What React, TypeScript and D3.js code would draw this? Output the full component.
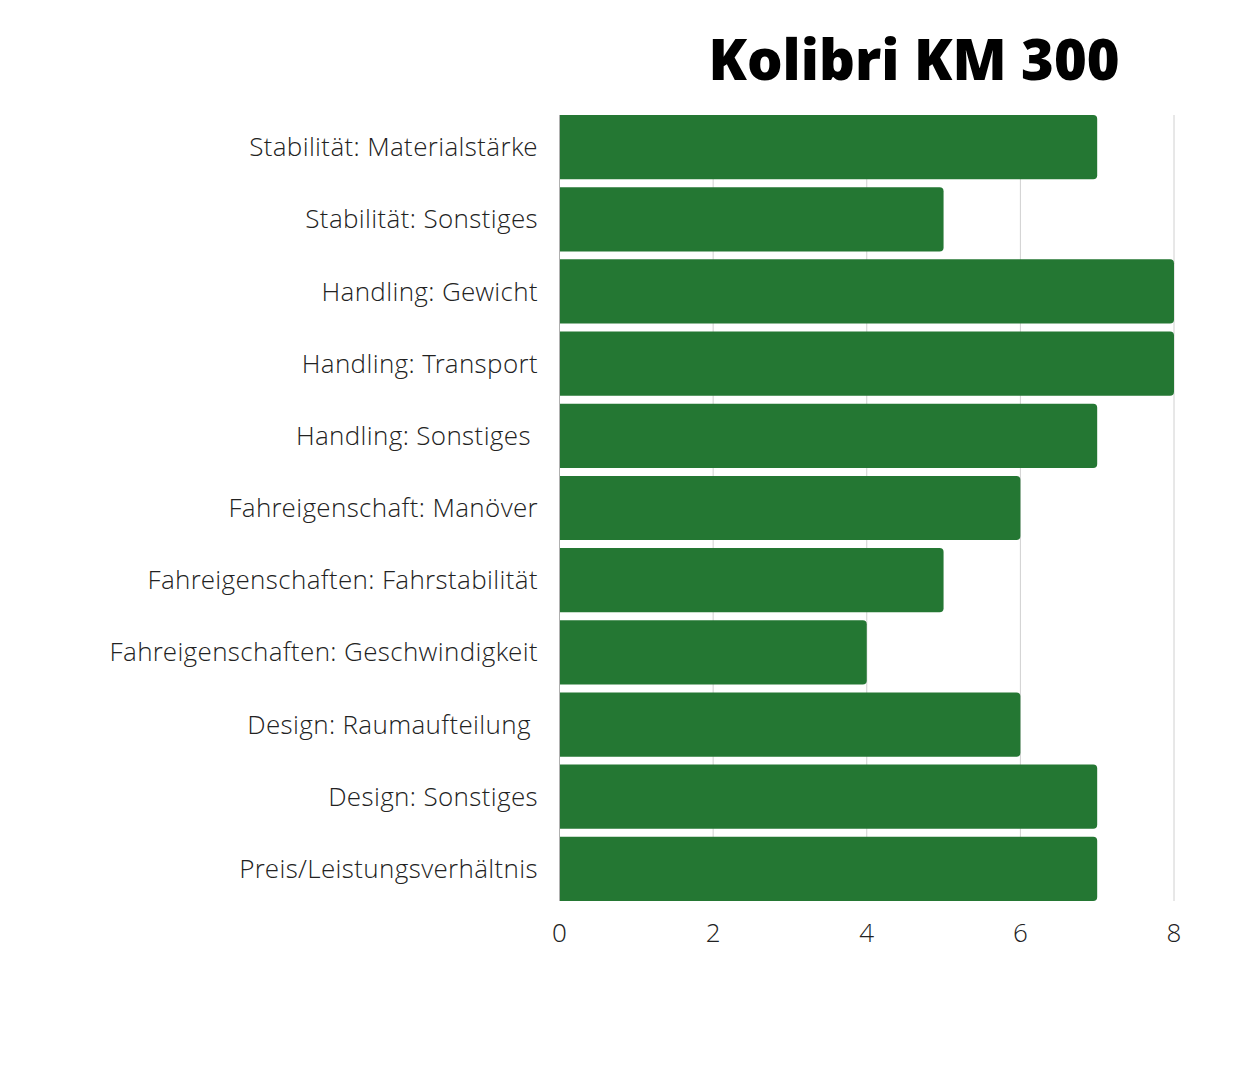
import React from "react";
import * as d3 from "d3";

const categories = [
  "Stabilität: Materialstärke",
  "Stabilität: Sonstiges",
  "Handling: Gewicht",
  "Handling: Transport",
  "Handling: Sonstiges ",
  "Fahreigenschaft: Manöver",
  "Fahreigenschaften: Fahrstabilität",
  "Fahreigenschaften: Geschwindigkeit",
  "Design: Raumaufteilung ",
  "Design: Sonstiges",
  "Preis/Leistungsverhältnis",
];
const values = [7, 5, 8, 8, 7, 6, 5, 4, 6, 7, 7];
const ticks = [0, 2, 4, 6, 8];
const title = "Kolibri KM 300";

const W = 1238;
const H = 1080;
const LIGHT = "'Open Sans Light', 'Open Sans', sans-serif";

export default function App() {
  const x = d3.scaleLinear().domain([0, 8]).range([559.5, 1174]);
  const y = d3
    .scaleBand<string>()
    .domain(categories)
    .range([111, 905])
    .paddingInner(0.11)
    .paddingOuter(0.055);
  const r = 4;
  const barPath = (v: number, c: string) => {
    const x0 = x(0) + 0.5;
    const x1 = x(v);
    const y0 = y(c)!;
    const h = y.bandwidth();
    const p = d3.path();
    p.moveTo(x0, y0);
    p.lineTo(x1 - r, y0);
    p.arcTo(x1, y0, x1, y0 + r, r);
    p.lineTo(x1, y0 + h - r);
    p.arcTo(x1, y0 + h, x1 - r, y0 + h, r);
    p.lineTo(x0, y0 + h);
    p.closePath();
    return p.toString();
  };
  const top = y(categories[0])!;
  const bottom = y(categories[categories.length - 1])! + y.bandwidth();
  return (
    <svg
      width={W}
      height={H}
      style={{ position: "absolute", left: 0, top: 0, background: "#fff" }}
      fontFamily="'Open Sans', sans-serif"
    >
      <text
        x={914}
        y={80}
        textAnchor="middle"
        fontSize={56}
        fontWeight={800}
        fill="#000"
      >
        {title}
      </text>
      {ticks.map((t) => (
        <line
          key={"g" + t}
          x1={x(t)}
          x2={x(t)}
          y1={top}
          y2={bottom}
          stroke={t === 0 ? "#b0b0b0" : "#d0d0d0"}
          strokeWidth={1}
        />
      ))}
      {categories.map((c, i) => (
        <path key={c} d={barPath(values[i], c)} fill="#247733" />
      ))}
      {categories.map((c) => (
        <text
          key={"l" + c}
          x={538}
          y={y(c)! + y.bandwidth() / 2}
          dy="0.35em"
          textAnchor="end"
          fontSize={26}
          fontWeight={300}
          fontFamily={LIGHT}
          letterSpacing={0.35}
          fill="#222"
          style={{ whiteSpace: "pre" }}
        >
          {c}
        </text>
      ))}
      {ticks.map((t) => (
        <text
          key={"t" + t}
          x={x(t)}
          y={942}
          textAnchor="middle"
          fontSize={26}
          fontWeight={300}
          fontFamily={LIGHT}
          fill="#222"
        >
          {t}
        </text>
      ))}
    </svg>
  );
}
